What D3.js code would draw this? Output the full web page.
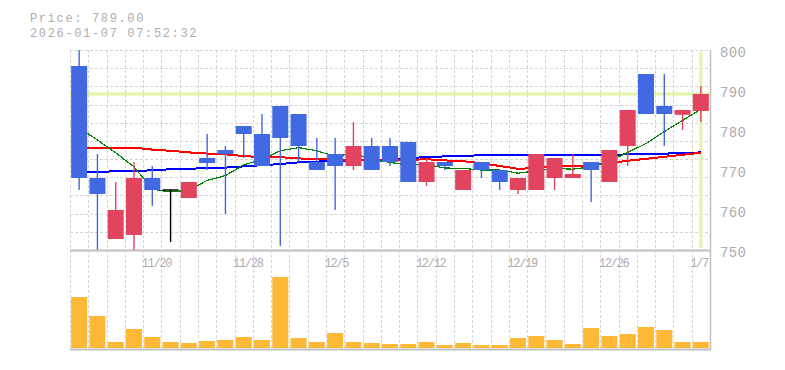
<!DOCTYPE html>
<html><head><meta charset="utf-8">
<script src="https://cdn.jsdelivr.net/npm/d3@7"></script>
<style>body{margin:0;background:#fff}svg{display:block}</style>
</head><body>
<script>
const dates = ["11/14","11/17","11/18","11/19","11/20","11/21","11/25","11/26","11/27","11/28","12/1","12/2","12/3","12/4","12/5","12/8","12/9","12/10","12/11","12/12","12/15","12/16","12/17","12/18","12/19","12/22","12/23","12/24","12/25","12/26","12/29","12/30","1/5","1/6","1/7"];
const openV  = [796,768,752.75,753.75,768,765,763,773,775,781,779,786,784,772,774,771,776,776,777,767,772,765,772,770,765,765,768,768,772,767,776,794,786,783.8,784.75];
const closeV = [768,764,760,768,765,765,767,771.75,774,779,771,778,776,770,771,776,770,772,767,772,771,770,770,767,768,774,773,769,770,775,785,784,784,785,789];
const highV  = [800,774,767,772,771,765,767,779,776,781,784,786,784,778,778,782,778,778,777,773,772,770,772,770,768,774,773,774,772,775,785,794,794,785,791];
const lowV   = [765,750,752.75,750,761,752,763,770,759,773,771,751,772,770,760,770,770,771,767,766,770,765,768,765,764,765,765,768,762,767,771,784,776,780,782];
const volume = [51000,32000,6000,19000,11000,6000,5000,7000,8000,11000,8000,71000,10000,6000,15000,6000,5000,4000,4000,6000,3000,5000,3000,3000,10000,12000,8000,4000,20000,12000,14000,21000,18000,6000,6000];
const maShort = [780.5,777.5,774.3,770.8,765.2,764.5,765,767.4,768.6,771.3,772.6,774.8,775.6,774.8,773.4,774.2,772.6,771.9,771.2,771.4,770.5,770.4,770,770,769.2,769.8,770.4,770.2,770.8,772.2,774.4,776.6,779.6,782.4,785.2];
const maMid   = [775.5,775.5,775.6,775.6,775.1,774.8,774.4,774.1,773.9,773.5,773.2,773.2,772.9,772.7,772.6,772.4,772.4,772.4,772.5,772.7,772.4,772.2,771.7,771,770.3,770.5,770.8,771,771.2,771.7,772.3,772.8,773.3,773.8,774.3];
const maLong  = [769.3,769.5,769.7,769.8,769.9,770.2,770.3,770.5,770.6,770.9,771.2,771.5,771.9,772.1,772.3,772.4,772.5,772.7,773,773.2,773.4,773.5,773.7,773.7,773.7,773.7,773.7,773.7,773.7,773.8,773.9,773.9,774.1,774.2,774.4];
const priceTicks = [750,760,770,780,790,800];
const labelIdx = [4,9,14,19,24,29,34];
const lastPrice = 789;
const titleLines = ["Price: 789.00","2026-01-07 07:52:32"];

const W=785,H=370;
const L=70,R=710,PT=50,PB=250,VB=350;
const svg=d3.select("body").append("svg").attr("width",W).attr("height",H);
const x=d3.scaleBand().domain(d3.range(dates.length)).range([L,R]).paddingInner(0.125).paddingOuter(0.0625);
const step=x.step(), bw=x.bandwidth();
const cx=i=>x(i)+bw/2;
const y=d3.scaleLinear().domain([750,800]).range([PB,PT]);
const yv=d3.scaleLinear().domain([0,80000]).range([348,268]);

const gridC="#d4d4d4";
// vertical grid
const g=svg.append("g");
for(let k=0;k<dates.length;k++){
  const gx=L+k*step;
  g.append("line").attr("x1",gx+0.5).attr("x2",gx+0.5).attr("y1",PT).attr("y2",VB)
   .attr("stroke",gridC).attr("stroke-dasharray","3,2").attr("shape-rendering","crispEdges");
}
// horizontal grid (price panel)
const hN=11;
for(let j=0;j<hN;j++){
  const gy=PT+j*(PB-PT)/hN;
  g.append("line").attr("x1",L).attr("x2",R).attr("y1",Math.round(gy)+0.5).attr("y2",Math.round(gy)+0.5)
   .attr("stroke",gridC).attr("stroke-dasharray","3,2").attr("shape-rendering","crispEdges");
}
// lime highlight lines
const lime="#e2f5a6";
svg.append("line").attr("x1",L).attr("x2",R).attr("y1",y(lastPrice)).attr("y2",y(lastPrice)).attr("stroke",lime).attr("stroke-width",3);
svg.append("line").attr("x1",cx(dates.length-1)).attr("x2",cx(dates.length-1)).attr("y1",PT+2).attr("y2",PB-2).attr("stroke",lime).attr("stroke-width",3);

// moving averages
const mkLine=d3.line().x((d,i)=>cx(i)).y(d=>y(d));
svg.append("path").attr("d",mkLine(maLong)).attr("fill","none").attr("stroke","#0000ff").attr("stroke-width",2).attr("shape-rendering","crispEdges");
svg.append("path").attr("d",mkLine(maMid)).attr("fill","none").attr("stroke","#ff0000").attr("stroke-width",2).attr("shape-rendering","crispEdges");
svg.append("path").attr("d",mkLine(maShort)).attr("fill","none").attr("stroke","#008000").attr("stroke-width",1.2).attr("shape-rendering","crispEdges");

// candles
const up="#e2435f", down="#4169e1";
const col=i=>closeV[i]>openV[i]?up:(closeV[i]<openV[i]?down:"#000");
const cg=svg.append("g");
dates.forEach((d,i)=>{
  cg.append("line").attr("x1",cx(i)).attr("x2",cx(i)).attr("y1",y(highV[i])).attr("y2",y(lowV[i]))
    .attr("stroke",col(i)).attr("stroke-width",1.4);
  const t=y(Math.max(openV[i],closeV[i])), b=y(Math.min(openV[i],closeV[i]));
  if(b-t<1){
    cg.append("line").attr("x1",x(i)).attr("x2",x(i)+bw).attr("y1",t).attr("y2",t).attr("stroke",col(i)).attr("stroke-width",1.5);
  } else {
    cg.append("rect").attr("x",x(i)).attr("y",t).attr("width",bw).attr("height",b-t).attr("fill",col(i));
  }
});

// volume
svg.append("g").selectAll("rect").data(volume).join("rect")
  .attr("x",(d,i)=>x(i)).attr("y",d=>yv(d)).attr("width",bw).attr("height",d=>yv(0)-yv(d)).attr("fill","#fdb935");

// borders
const bc="#c0c0c0";
svg.append("line").attr("x1",L).attr("x2",R).attr("y1",PB+0.5).attr("y2",PB+0.5).attr("stroke",bc).attr("stroke-width",2);
svg.append("line").attr("x1",L).attr("x2",R+1).attr("y1",VB-0.5).attr("y2",VB-0.5).attr("stroke",bc).attr("stroke-width",2);
svg.append("line").attr("x1",R+0.5).attr("x2",R+0.5).attr("y1",PT).attr("y2",VB).attr("stroke",bc).attr("stroke-width",1.5);

// texts
const tc="#adadad";
const font="'Liberation Mono', monospace";
svg.append("g").selectAll("text").data(priceTicks).join("text")
  .attr("x",720).attr("y",d=>y(d)+7).attr("fill",tc).attr("font-family",font).attr("font-size",14).attr("letter-spacing",0.3)
  .text(d=>d);
svg.append("g").selectAll("text").data(labelIdx).join("text")
  .attr("x",i=>L+i*step-1.5).attr("y",266.5).attr("fill",tc).attr("font-family",font).attr("font-size",12).attr("letter-spacing",-1.3)
  .text(i=>dates[i]);
svg.append("g").selectAll("text").data(titleLines).join("text")
  .attr("x",30).attr("y",(d,i)=>22+i*15).attr("fill",tc).attr("font-family",font).attr("font-size",12).attr("letter-spacing",1.65)
  .text(d=>d);
</script>
</body></html>
